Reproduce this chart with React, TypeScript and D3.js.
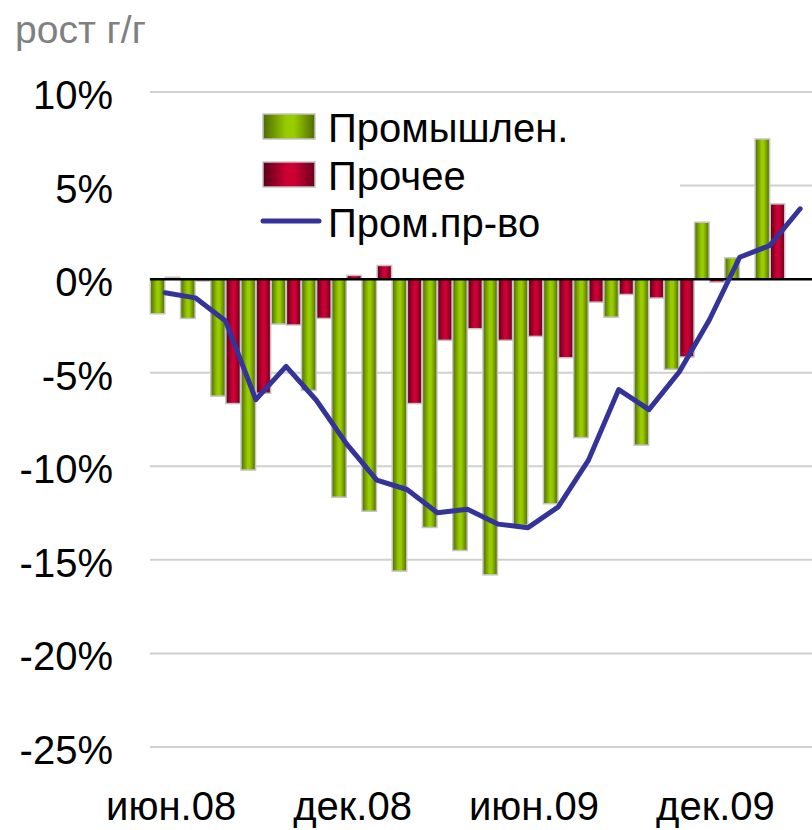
import React from 'react';
import * as d3 from 'd3';

const months = ['июн.08', 'июл.08', 'авг.08', 'сен.08', 'окт.08', 'ноя.08', 'дек.08', 'янв.09', 'фев.09', 'мар.09', 'апр.09', 'май.09',
  'июн.09', 'июл.09', 'авг.09', 'сен.09', 'окт.09', 'ноя.09', 'дек.09', 'янв.10', 'фев.10', 'мар.10'];
const shownLabels = ['июн.08', 'дек.08', 'июн.09', 'дек.09'];
const industry = [-1.85, -2.1, -6.25, -10.2, -2.4, -5.95, -11.65, -12.4, -15.6, -13.27, -14.5, -15.8, -13.15, -12.0, -8.47, -2.03, -8.87, -4.82, 3.04, 1.14, 7.49, null];
const other = [0.1, -0.1, -6.65, -6.1, -2.45, -2.1, 0.2, 0.73, -6.65, -3.27, -2.65, -3.27, -3.06, -4.2, -1.23, -0.82, -1.01, -4.16, -0.16, 0, 4.02, null];
const production = [-0.73, -1.0, -2.24, -6.44, -4.66, -6.47, -8.8, -10.74, -11.24, -12.48, -12.3, -13.09, -13.28, -12.17, -9.67, -5.9, -6.97, -4.96, -2.17, 1.17, 1.8, 3.76];
const yTicks = [10, 5, 0, -5, -10, -15, -20, -25];
const seriesNames = ['Промышлен.', 'Прочее', 'Пром.пр-во'];

const font = 'Liberation Sans, Arial, sans-serif';

export default function App() {
  var width = 812, height = 830;
  var left = 150, step = 30.24;

  var x = d3.scaleBand().domain(months).range([left, left + months.length * step]).padding(0);
  var sub = d3.scaleBand().domain(['a', 'b']).range([0, x.bandwidth()]).paddingInner(0.04).paddingOuter(0.02);
  var y = d3.scaleLinear().domain([-25, 10]).range([747, 92]);

  var line = d3.line<number>()
    .x(function (d, i) { return x(months[i])! + x.bandwidth() / 2; })
    .y(function (d) { return y(d); });

  function bar(v: number | null, i: number, key: string, fill: string) {
    if (v === null) return null;
    var y0 = y(0), y1 = y(v);
    return (
      <rect key={key + i} x={x(months[i])! + sub(key)!} width={sub.bandwidth()}
        y={Math.min(y0, y1)} height={Math.abs(y1 - y0)}
        fill={fill} stroke="#c4c4c4" strokeWidth={1.5} />
    );
  }

  return (
    <svg width={width} height={height} style={{ position: 'absolute', left: 0, top: 0, background: '#fff' }}>
      <defs>
        <linearGradient id="gGreen" x1="0" x2="1" y1="0" y2="0">
          <stop offset="0" stopColor="#4d6a00" />
          <stop offset="0.45" stopColor="#99cc00" />
          <stop offset="0.6" stopColor="#99cc00" />
          <stop offset="1" stopColor="#4f6b00" />
        </linearGradient>
        <linearGradient id="gRed" x1="0" x2="1" y1="0" y2="0">
          <stop offset="0" stopColor="#5a0018" />
          <stop offset="0.45" stopColor="#cc0033" />
          <stop offset="0.6" stopColor="#cc0033" />
          <stop offset="1" stopColor="#6a001e" />
        </linearGradient>
      </defs>

      <text x={15} y={43} fontFamily={font} fontSize={39} fill="#808080">рост г/г</text>

      {yTicks.map(function (t) {
        return (
          <g key={t}>
            {t !== 0 && <line x1={left} x2={width} y1={y(t)} y2={y(t)} stroke="#d0d0d0" strokeWidth={2} />}
            <text x={113} y={y(t) + 17} textAnchor="end" fontFamily={font} fontSize={40} fill="#000">{t + '%'}</text>
          </g>
        );
      })}

      <rect x={145} y={97} width={535} height={165} fill="#fff" />

      {industry.map(function (v, i) { return bar(v, i, 'a', 'url(#gGreen)'); })}
      {other.map(function (v, i) { return bar(v, i, 'b', 'url(#gRed)'); })}

      <line x1={left} x2={width} y1={y(0)} y2={y(0)} stroke="#000" strokeWidth={2.5} />

      <path d={line(production)!} fill="none" stroke="#333399" strokeWidth={5} strokeLinejoin="round" strokeLinecap="round" />

      {shownLabels.map(function (m) {
        return (
          <text key={m} x={x(m)! + x.bandwidth() / 2 + 6} y={820} textAnchor="middle" fontFamily={font} fontSize={40} fill="#000">{m}</text>
        );
      })}

      <g fontFamily={font} fontSize={40} fill="#000">
        <rect x={263} y={114} width={52} height={25} fill="url(#gGreen)" stroke="#c4c4c4" strokeWidth={1.5} />
        <text x={328} y={142}>{seriesNames[0]}</text>
        <rect x={263} y={162} width={52} height={25} fill="url(#gRed)" stroke="#c4c4c4" strokeWidth={1.5} />
        <text x={328} y={190}>{seriesNames[1]}</text>
        <line x1={263} x2={319} y1={221} y2={221} stroke="#333399" strokeWidth={5} strokeLinecap="round" />
        <text x={328} y={237}>{seriesNames[2]}</text>
      </g>
    </svg>
  );
}
